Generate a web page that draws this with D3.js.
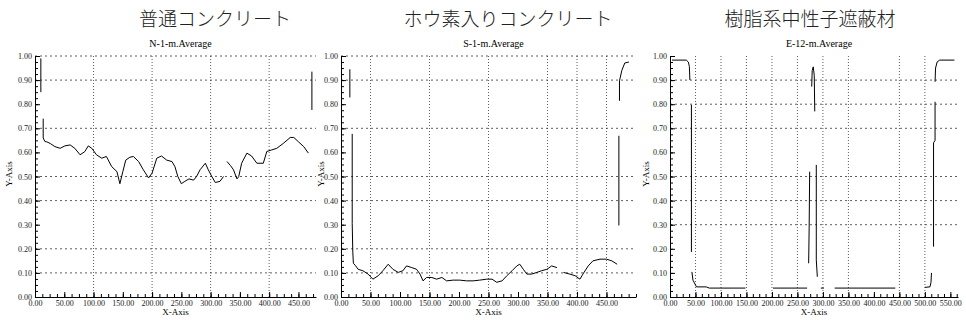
<!DOCTYPE html>
<html>
<head>
<meta charset="utf-8">
<script src="https://cdn.jsdelivr.net/npm/d3@7"></script>
<style>
  body { margin: 0; background: #fff; }
  .tick text { font-family: "Liberation Serif", serif; font-size: 8px; fill: #222; }
</style>
</head>
<body>
<svg id="chart" width="966" height="327"></svg>
<script>
// headings above each panel
let headings = ["普通コンクリート", "ホウ素入りコンクリート", "樹脂系中性子遮蔽材"];
let plotTitles = ["N-1-m.Average", "S-1-m.Average", "E-12-m.Average"];

// N-1-m : x position and averaged value (null = gap in the trace)
let nX = [10, 10, null,
  14, 14, 17, 20, 26, 34, 43, 51, 60, 68, 77, 85, 91, 97, 105, 114, 122, 131, 140, 145, 150, 155, 162, 168,
  177, 185, 194, 200, 208, 216, 225, 234, 239, 244, 250, 256, 263, 271, 276, 282, 291, 296, 302, 308, 316, 322, null,
  328, 334, 339, 345, 348, 353, 362, 370, 379, 390, 396, 404, 413, 424, 436, 442, 450, 459, 467, null,
  473, 473];
let nY = [0.99, 0.85, null,
  0.74, 0.66, 0.645, 0.644, 0.637, 0.624, 0.617, 0.627, 0.631, 0.617, 0.59, 0.603, 0.627, 0.617, 0.59, 0.576, 0.583, 0.541, 0.52, 0.47, 0.52, 0.568, 0.58, 0.583,
  0.562, 0.528, 0.494, 0.514, 0.576, 0.585, 0.568, 0.562, 0.541, 0.5, 0.47, 0.48, 0.49, 0.485, 0.5, 0.528, 0.555, 0.528, 0.5, 0.475, 0.48, 0.5, null,
  0.562, 0.545, 0.528, 0.49, 0.5, 0.555, 0.597, 0.585, 0.555, 0.555, 0.604, 0.61, 0.617, 0.637, 0.662, 0.662, 0.644, 0.624, 0.597, null,
  0.935, 0.776];

// S-1-m
let sX = [15, 15, null,
  19, 19, 20, 21, 24, 29, 37, 46, 54, 63, 71, 80, 88, 97, 105, 111, 120, 128, 134, 139, 145, 154, 162, 171, 179,
  190, 201, 213, 224, 235, 247, 256, 264, 273, 281, 290, 298, 303, 309, 315, 323, 332, 340, 349, 357, 366, null,
  377, 388, 397, 405, 410, 419, 427, 439, 450, 459, 468, null,
  471, 471, null,
  472, 472, 476, 481, 488];
let sY = [0.945, 0.828, null,
  0.677, 0.305, 0.186, 0.14, 0.132, 0.115, 0.109, 0.095, 0.074, 0.088, 0.109, 0.136, 0.115, 0.102, 0.109, 0.129, 0.122, 0.115, 0.095, 0.067, 0.081, 0.081, 0.074, 0.081, 0.067,
  0.07, 0.07, 0.067, 0.067, 0.07, 0.074, 0.074, 0.061, 0.067, 0.088, 0.109, 0.129, 0.136, 0.115, 0.095, 0.095, 0.102, 0.109, 0.115, 0.129, 0.122, null,
  0.102, 0.095, 0.088, 0.074, 0.095, 0.129, 0.15, 0.157, 0.157, 0.15, 0.136, null,
  0.669, 0.297, null,
  0.814, 0.897, 0.94, 0.971, 0.975];

// E-12-m
let eX = [4, 32, 36, 38, 39, null,
  42, 42, null,
  43, 45, 50, 52, 71, 77, 148, null,
  202, 269, null,
  272, 273, 274, null,
  278, 279, 281, 283, 284, null,
  287, 287, 289, null,
  296, 302, null,
  323, 442, null,
  500, 510, 512, 513, null,
  517, 517, 520, 520, null,
  520, 521, 524, 529, 558];
let eY = [0.983, 0.983, 0.975, 0.956, 0.90, null,
  0.797, 0.187, null,
  0.104, 0.07, 0.05, 0.042, 0.042, 0.037, 0.037, null,
  0.037, 0.037, null,
  0.14, 0.29, 0.52, null,
  0.873, 0.94, 0.955, 0.92, 0.77, null,
  0.548, 0.154, 0.084, null,
  0.037, 0.037, null,
  0.037, 0.037, null,
  0.04, 0.042, 0.06, 0.1, null,
  0.209, 0.64, 0.65, 0.81, null,
  0.893, 0.95, 0.975, 0.983, 0.983];

// axis ticks and dotted grid lines
let yTicks = [0, 0.1, 0.2, 0.3, 0.4, 0.5, 0.6, 0.7, 0.8, 0.9, 1.0];
let xTicksNS = [0, 50, 100, 150, 200, 250, 300, 350, 400, 450];
let xTicksE = [0, 50, 100, 150, 200, 250, 300, 350, 400, 450, 500, 550];
let gridYN = [1.0, 0.9, 0.7, 0.5, 0.4, 0.2, 0.1];
let gridXN = [100, 200, 300, 400];
let gridYS = [1.0, 0.9, 0.7, 0.5, 0.4, 0.2, 0.1];
let gridXS = [50, 150, 250, 350, 400, 450];
let gridYE = [0.9, 0.8, 0.7, 0.5, 0.4, 0.3];
let gridXE = [50, 100, 150, 200, 250, 300, 350, 450, 500];

let svg = d3.select("#chart");
let plotTop = 56, plotBottom = 297;

let panels = [
  { left: 35, right: 316, xMax: 480, xs: nX, ys: nY, xTicks: xTicksNS, gx: gridXN, gy: gridYN, headX: 215, yLabX: 12 },
  { left: 341, right: 636, xMax: 500, xs: sX, ys: sY, xTicks: xTicksNS, gx: gridXS, gy: gridYS, headX: 508, yLabX: 324 },
  { left: 670, right: 958, xMax: 565, xs: eX, ys: eY, xTicks: xTicksE, gx: gridXE, gy: gridYE, headX: 810, yLabX: 649 }
];

panels.forEach(function(p, i) {
  let x = d3.scaleLinear().domain([0, p.xMax]).range([p.left, p.right]);
  let y = d3.scaleLinear().domain([0, 1]).range([plotBottom, plotTop]);
  let g = svg.append("g");

  // heading (Japanese) and plot title
  svg.append("text")
    .attr("x", p.headX).attr("y", 26)
    .attr("text-anchor", "middle")
    .style("font-family", "'Noto Sans CJK JP', sans-serif")
    .style("font-size", "19px").style("font-weight", 300)
    .style("fill", "#222")
    .text(headings[i]);

  let mid = (p.left + p.right) / 2;
  g.append("text")
    .attr("x", mid + 5).attr("y", 47)
    .attr("text-anchor", "middle")
    .style("font-family", "'Liberation Serif', serif")
    .style("font-size", "10px")
    .text(plotTitles[i]);

  // dotted grid
  g.selectAll(".gy").data(p.gy).enter().append("line")
    .attr("x1", p.left).attr("x2", p.right)
    .attr("y1", d => y(d)).attr("y2", d => y(d))
    .attr("stroke", "#333").attr("stroke-width", 0.8)
    .attr("stroke-dasharray", "2,3");
  g.selectAll(".gx").data(p.gx).enter().append("line")
    .attr("x1", d => x(d)).attr("x2", d => x(d))
    .attr("y1", plotTop).attr("y2", plotBottom)
    .attr("stroke", "#333").attr("stroke-width", 0.8)
    .attr("stroke-dasharray", "1,2");

  // minor ticks
  g.append("g").attr("transform", "translate(0," + plotBottom + ")")
    .call(d3.axisBottom(x).tickValues(d3.range(0, p.xMax + 0.1, 12.5)).tickSize(-3).tickFormat(""))
    .call(a => a.select(".domain").remove());
  g.append("g").attr("transform", "translate(" + p.left + ",0)")
    .call(d3.axisLeft(y).tickValues(d3.range(0, 1.001, 0.025)).tickSize(-3).tickFormat(""))
    .call(a => a.select(".domain").remove());

  // major axes
  g.append("g").attr("transform", "translate(0," + plotBottom + ")")
    .call(d3.axisBottom(x).tickValues(p.xTicks).tickSize(-5).tickSizeOuter(0).tickPadding(3).tickFormat(d3.format(".2f")));
  g.append("g").attr("transform", "translate(" + p.left + ",0)")
    .call(d3.axisLeft(y).tickValues(yTicks).tickSize(-5).tickSizeOuter(0).tickPadding(3).tickFormat(d3.format(".2f")));

  g.selectAll(".domain").attr("stroke", "#000");

  // axis names
  g.append("text")
    .attr("x", mid).attr("y", 315)
    .attr("text-anchor", "middle")
    .style("font-family", "'Liberation Serif', serif").style("font-size", "9px")
    .text("X-Axis");
  g.append("text")
    .attr("transform", "translate(" + p.yLabX + "," + 174 + ") rotate(-90)")
    .attr("text-anchor", "middle")
    .style("font-family", "'Liberation Serif', serif").style("font-size", "9px")
    .text("Y-Axis");

  // averaged trace
  let pts = p.xs.map((v, k) => [v, p.ys[k]]);
  let line = d3.line()
    .defined(d => d[0] != null && d[1] != null)
    .x(d => x(d[0]))
    .y(d => y(d[1]));
  g.append("path")
    .datum(pts)
    .attr("fill", "none")
    .attr("stroke", "#000")
    .attr("stroke-width", 1)
    .attr("d", line);
});
</script>
</body>
</html>
